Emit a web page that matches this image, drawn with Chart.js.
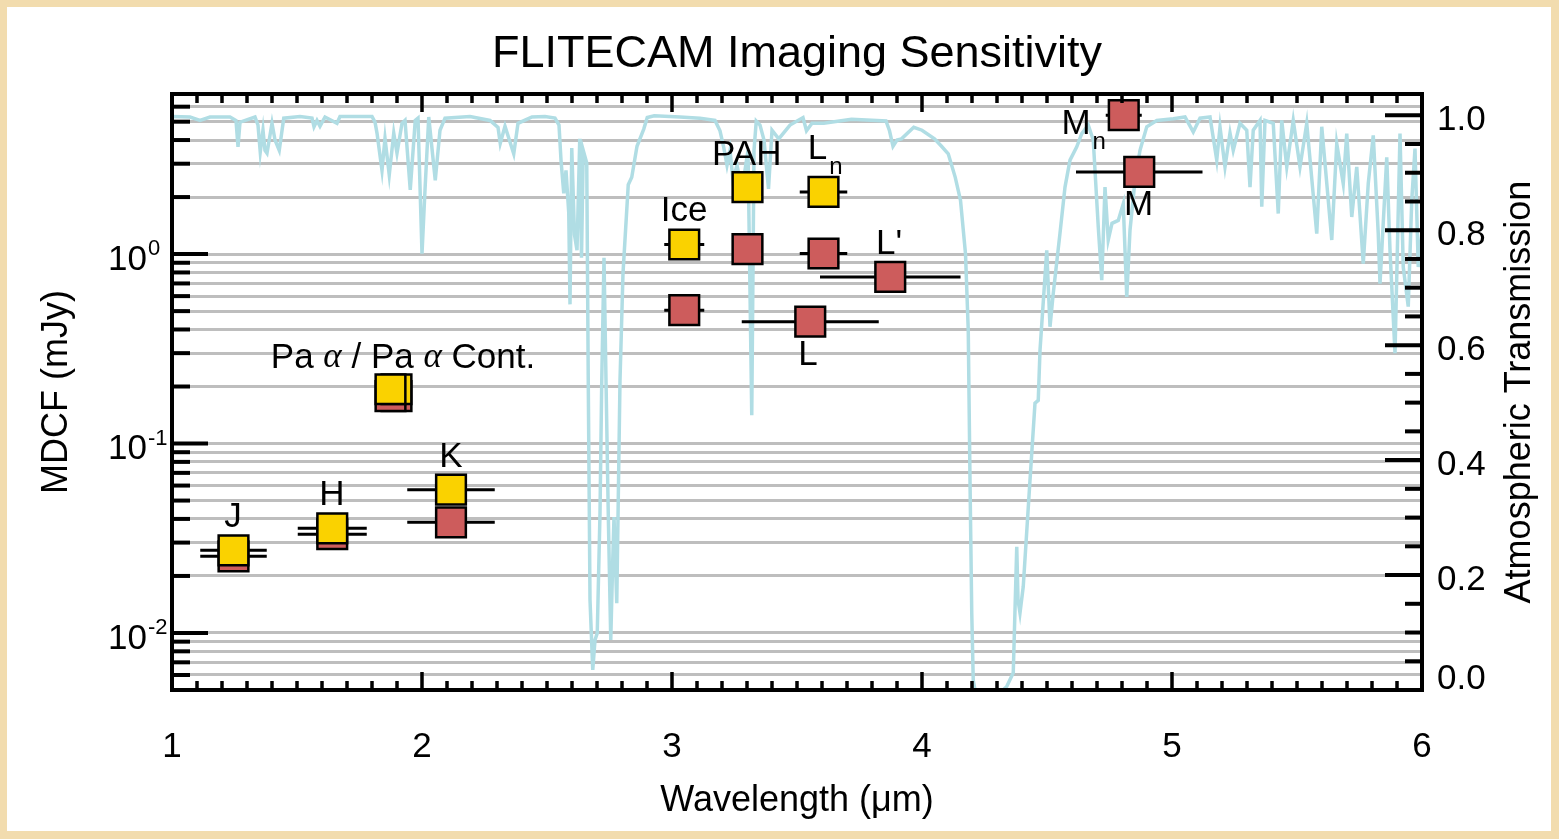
<!DOCTYPE html>
<html><head><meta charset="utf-8">
<script src="https://cdn.jsdelivr.net/npm/chart.js@4.4.1/dist/chart.umd.min.js"></script>
<style>html,body{margin:0;padding:0;background:#f2dcae;overflow:hidden}canvas{display:block}</style>
</head><body>
<canvas id="c" width="1559" height="839"></canvas>
<script>
const FONT = '"Liberation Sans", Arial, Helvetica, sans-serif';

// ---- filter photometry (MDCF, mJy) ----
const filterNames      = ['J', 'H', 'Pa α Cont.', 'Pa α', 'K', 'Ice', 'PAH', 'Ln', 'L', "L'", 'Mn', 'M'];
const filterCenters    = [1.246, 1.641, 1.898, 1.874, 2.116, 3.049, 3.302, 3.606, 3.553, 3.873, 4.807, 4.869];
const filterHalfWidths = [0.133, 0.138, 0.010, 0.010, 0.175, 0.080, 0.030, 0.095, 0.274, 0.281, 0.072, 0.253];
const mdcfYellow       = [0.0273, 0.0357, 0.1935, 0.1935, 0.0571, 1.124, 2.255, 2.130, null, null, null, null];
const mdcfRed          = [0.0254, 0.0332, 0.178, 0.178, 0.0384, 0.506, 1.061, 1.007, 0.440, 0.758, 5.41, 2.716];

// ---- atmospheric transmission ----
const transWavelength = [1.000,1.072,1.112,1.152,1.232,1.256,1.264,1.272,1.332,1.344,1.353,1.364,1.372,1.380,1.400,1.412,1.429,1.447,1.512,1.560,1.568,1.580,1.592,1.612,1.660,1.672,1.800,1.812,1.820,1.840,1.852,1.869,1.887,1.900,1.920,1.932,1.953,1.973,1.984,2.000,2.012,2.027,2.053,2.072,2.092,2.192,2.272,2.304,2.313,2.332,2.367,2.384,2.440,2.492,2.532,2.548,2.556,2.567,2.576,2.587,2.592,2.599,2.610,2.620,2.631,2.638,2.645,2.659,2.665,2.672,2.683,2.692,2.701,2.712,2.719,2.728,2.736,2.745,2.755,2.763,2.768,2.779,2.792,2.804,2.825,2.839,2.860,2.887,2.901,2.929,3.032,3.112,3.172,3.192,3.206,3.220,3.232,3.244,3.260,3.280,3.304,3.319,3.328,3.337,3.352,3.368,3.386,3.400,3.427,3.472,3.524,3.538,3.560,3.607,3.718,3.856,3.870,3.884,3.900,3.918,3.967,4.000,4.050,4.078,4.105,4.133,4.154,4.174,4.185,4.192,4.199,4.205,4.212,4.324,4.339,4.365,4.379,4.384,4.392,4.405,4.432,4.452,4.465,4.472,4.499,4.512,4.525,4.552,4.572,4.592,4.619,4.639,4.665,4.685,4.705,4.719,4.732,4.745,4.760,4.785,4.805,4.819,4.832,4.852,4.872,4.899,4.939,5.005,5.052,5.085,5.112,5.152,5.179,5.192,5.212,5.232,5.245,5.272,5.299,5.312,5.325,5.352,5.359,5.372,5.405,5.425,5.439,5.459,5.485,5.512,5.539,5.579,5.599,5.619,5.639,5.659,5.685,5.699,5.719,5.739,5.765,5.785,5.805,5.825,5.832,5.859,5.872,5.892,5.912,5.925,5.945,5.959,5.972,5.985,5.999];
const transValue = [0.998,0.997,0.991,0.997,0.997,0.991,0.945,0.988,0.997,0.983,0.936,0.974,0.939,0.934,0.986,0.957,0.939,0.995,0.998,0.995,0.980,0.991,0.981,0.997,0.986,0.998,0.998,0.988,0.969,0.904,0.960,0.896,0.969,0.934,0.986,0.991,0.870,0.991,0.995,0.759,0.870,0.997,0.887,0.974,0.995,0.998,0.991,0.979,0.951,0.981,0.933,0.986,0.997,0.998,0.995,0.983,0.922,0.864,0.904,0.830,0.671,0.943,0.792,0.765,0.959,0.752,0.939,0.917,0.539,0.157,0.035,0.087,0.099,0.308,0.539,0.752,0.539,0.308,0.087,0.226,0.301,0.151,0.539,0.725,0.879,0.892,0.946,0.976,0.996,0.999,0.997,0.995,0.991,0.973,0.946,0.913,0.939,0.887,0.913,0.870,0.939,0.478,0.939,0.990,0.983,0.957,0.872,0.974,0.959,0.983,0.996,0.973,0.986,0.986,0.993,0.990,0.973,0.946,0.957,0.959,0.979,0.974,0.959,0.946,0.933,0.892,0.852,0.759,0.626,0.365,0.134,0.017,0.000,0.000,0.006,0.030,0.249,0.157,0.134,0.180,0.365,0.499,0.504,0.591,0.765,0.632,0.690,0.795,0.875,0.922,0.945,0.968,0.983,0.957,0.806,0.713,0.875,0.783,0.812,0.817,0.846,0.684,0.800,0.887,0.939,0.980,0.991,0.994,0.997,0.971,0.995,0.997,0.922,0.980,0.910,0.969,0.939,0.986,0.974,0.875,0.974,0.991,0.841,0.991,0.986,0.829,0.991,0.910,0.991,0.910,0.986,0.794,0.980,0.882,0.783,0.951,0.881,0.968,0.823,0.910,0.742,0.881,0.965,0.794,0.707,0.927,0.765,0.586,0.968,0.736,0.667,0.852,0.942,0.736,0.795];

// ---- axis ticks & labels ----
const xTickValues = [1, 2, 3, 4, 5, 6];
const xTickLabels = ['1', '2', '3', '4', '5', '6'];
const leftTickValues = [0.01, 0.1, 1];
const leftTickBase = ['10', '10', '10'];
const leftTickExponents = ['-2', '-1', '0'];
const rightTickValues = [0, 0.2, 0.4, 0.6, 0.8, 1.0];
const rightTickLabels = ['0.0', '0.2', '0.4', '0.6', '0.8', '1.0'];

// ---- filter annotations (anchored in data units) ----
const annotationTexts  = ['J', 'H', 'K', 'Pa α / Pa α Cont.', 'Ice', 'PAH', 'L', "L'", 'L', 'M', 'M'];
const annotationSubs   = ['', '', '', '', '', '', 'n', '', '', 'n', ''];
const annotationLambda = [1.244, 1.640, 2.116, 1.924, 3.048, 3.299, 3.582, 3.868, 3.544, 4.616, 4.866];
const annotationMJy    = [0.0408, 0.0533, 0.0847, 0.282, 1.685, 3.307, 3.58, 1.121, 0.2925, 4.852, 1.801];

// log-axis grid values (every mantissa within the axis range)
const Y_MIN = 0.005, Y_MAX = 7;
const gridValues = [];
for (let e = -3; e <= 0; e++) for (let m = 1; m <= 9; m++) {
  const v = +(m * Math.pow(10, e)).toPrecision(6);
  if (v >= Y_MIN - 1e-12 && v <= Y_MAX + 1e-12) gridValues.push(v);
}
const isDecade = v => Math.abs(Math.log10(v) - Math.round(Math.log10(v))) < 1e-9;

// datasets built from arrays
const yellowPts = [], redPts = [], barPts = [];
filterCenters.forEach((c, i) => {
  const lo = c - filterHalfWidths[i], hi = c + filterHalfWidths[i];
  if (mdcfRed[i] != null) { redPts.push({x: c, y: mdcfRed[i]}); barPts.push({x: lo, y: mdcfRed[i]}, {x: hi, y: mdcfRed[i]}, {x: hi, y: null}); }
  if (mdcfYellow[i] != null) { yellowPts.push({x: c, y: mdcfYellow[i]}); barPts.push({x: lo, y: mdcfYellow[i]}, {x: hi, y: mdcfYellow[i]}, {x: hi, y: null}); }
});
const transPts = transWavelength.map((w, i) => ({x: w, y: transValue[i]}));

function drawRich(ctx, text, cx, cy, size) {
  const parts = text.split(/([αμ])/).filter(p => p.length);
  const fontOf = p => (p === 'α' || p === 'μ') ? `italic ${size}px "Liberation Serif", "DejaVu Serif", serif` : `${size}px ${FONT}`;
  let total = 0;
  parts.forEach(p => { ctx.font = fontOf(p); total += ctx.measureText(p).width; });
  let x = cx - total / 2;
  ctx.textAlign = 'left'; ctx.textBaseline = 'middle';
  parts.forEach(p => { ctx.font = fontOf(p); ctx.fillText(p, x, cy); x += ctx.measureText(p).width; });
  return total;
}

const deco = {
  id: 'deco',
  beforeDraw(chart) {
    const ctx = chart.ctx;
    ctx.save();
    ctx.fillStyle = '#f2dcae';
    ctx.fillRect(0, 0, chart.width, chart.height);
    ctx.fillStyle = '#ffffff';
    ctx.fillRect(7, 7, chart.width - 15, chart.height - 15);
    ctx.restore();
  },
  afterDraw(chart) {
    const {ctx, chartArea: a, scales} = chart;
    const xs = scales.x, yl = scales.y, yr = scales.yT;
    const line = (x1, y1, x2, y2) => { ctx.beginPath(); ctx.moveTo(x1, y1); ctx.lineTo(x2, y2); ctx.stroke(); };
    ctx.save();
    ctx.strokeStyle = '#000'; ctx.fillStyle = '#000'; ctx.lineCap = 'butt';
    // bottom & top ticks
    ctx.lineWidth = 3.5;
    for (let i = 10; i <= 60; i++) {
      const px = xs.getPixelForValue(i / 10);
      const L = (i % 10 === 0) ? 18 : 9;
      line(px, a.bottom, px, a.bottom - L);
      line(px, a.top, px, a.top + L);
    }
    // left ticks
    ctx.lineWidth = 4;
    gridValues.forEach(v => {
      const py = yl.getPixelForValue(v);
      line(a.left, py, a.left + (isDecade(v) ? 36 : 18), py);
    });
    // right ticks
    for (let i = 0; i <= 20; i++) {
      const py = yr.getPixelForValue(i * 0.05);
      line(a.right, py, a.right - ((i % 4 === 0) ? 37 : 17), py);
    }
    // frame
    ctx.lineWidth = 4;
    ctx.strokeRect(a.left, a.top, a.right - a.left, a.bottom - a.top);

    // left tick labels with superscripts
    leftTickValues.forEach((v, i) => {
      const py = yl.getPixelForValue(v);
      ctx.font = `35px ${FONT}`; ctx.textAlign = 'left'; ctx.textBaseline = 'middle';
      const x0 = a.left - 64;
      ctx.fillText(leftTickBase[i], x0, py + 6);
      const w = ctx.measureText(leftTickBase[i]).width;
      ctx.font = `22px ${FONT}`;
      ctx.fillText(leftTickExponents[i], x0 + w + 1, py - 5);
    });
    // right tick labels
    ctx.font = `35px ${FONT}`; ctx.textAlign = 'left'; ctx.textBaseline = 'middle';
    rightTickValues.forEach((v, i) => {
      const py = yr.getPixelForValue(v);
      ctx.fillText(rightTickLabels[i], a.right + 15, Math.min(py + 5, a.bottom - 11));
    });
    // right axis title
    ctx.save();
    ctx.translate(a.right + 98, (a.top + a.bottom) / 2);
    ctx.rotate(-Math.PI / 2);
    ctx.font = `36px ${FONT}`; ctx.textAlign = 'center'; ctx.textBaseline = 'middle';
    ctx.fillText('Atmospheric Transmission', 0, 0);
    ctx.restore();

    // filter annotations
    annotationTexts.forEach((t, i) => {
      const px = xs.getPixelForValue(annotationLambda[i]);
      const py = yl.getPixelForValue(annotationMJy[i]);
      const w = drawRich(ctx, t, px, py, 35);
      if (annotationSubs[i]) {
        ctx.font = `24px ${FONT}`; ctx.textAlign = 'left'; ctx.textBaseline = 'middle';
        ctx.fillText(annotationSubs[i], px + w / 2 + 2, py + 18);
      }
    });
    ctx.restore();
  }
};

new Chart(document.getElementById('c'), {
  data: {
    datasets: [
      {type: 'scatter', label: 'MDCF (yellow)', data: yellowPts, yAxisID: 'y', xAxisID: 'x',
       pointStyle: 'rect', pointRadius: 21, pointHoverRadius: 21, backgroundColor: '#fad200',
       borderColor: '#000', borderWidth: 2.5, order: 0},
      {type: 'scatter', label: 'MDCF (red)', data: redPts, yAxisID: 'y', xAxisID: 'x',
       pointStyle: 'rect', pointRadius: 21, pointHoverRadius: 21, backgroundColor: '#cd5c5c',
       borderColor: '#000', borderWidth: 2.5, order: 1},
      {type: 'line', label: 'Filter bandwidth', data: barPts, yAxisID: 'y', xAxisID: 'x',
       borderColor: '#000', borderWidth: 3, pointRadius: 0, spanGaps: false, order: 2},
      {type: 'line', label: 'Atmospheric transmission', data: transPts, yAxisID: 'yT', xAxisID: 'x',
       borderColor: '#b0dde4', borderWidth: 3.5, pointRadius: 0, tension: 0, order: 3}
    ]
  },
  options: {
    responsive: false, animation: false, events: [],
    layout: {padding: 0},
    plugins: {
      legend: {display: false}, tooltip: {enabled: false},
      title: {display: true, text: 'FLITECAM Imaging Sensitivity', fullSize: false, color: '#000',
              font: {family: FONT, size: 45, weight: 'normal'}, padding: {top: 28, bottom: 12}}
    },
    scales: {
      x: {type: 'linear', min: 1, max: 6, position: 'bottom',
          grid: {display: false, drawTicks: false}, border: {display: false},
          afterBuildTicks(s) { s.ticks = xTickValues.map(v => ({value: v})); },
          ticks: {autoSkip: false, color: '#000', font: {family: FONT, size: 35}, padding: 36,
                  callback: (v, i) => xTickLabels[i]},
          title: {display: true, text: 'Wavelength (μm)', color: '#000', font: {family: FONT, size: 36},
                  padding: {top: 0, bottom: 16}},
          afterFit(s) { s.height = 149; }},
      y: {type: 'logarithmic', min: Y_MIN, max: Y_MAX, position: 'left',
          grid: {color: '#bebebe', lineWidth: 3, drawTicks: false}, border: {display: false},
          afterBuildTicks(s) { s.ticks = gridValues.map(v => ({value: v})); },
          ticks: {display: false},
          title: {display: true, text: 'MDCF (mJy)', color: '#000', font: {family: FONT, size: 36},
                  padding: {top: 35, bottom: 0}},
          afterFit(s) { s.width = 172; }},
      yT: {type: 'linear', min: 0, max: 1.037, position: 'right',
           grid: {display: false, drawTicks: false}, border: {display: false},
           ticks: {display: false},
           afterFit(s) { s.width = 137; }}
    }
  },
  plugins: [deco]
});
</script>
</body></html>
